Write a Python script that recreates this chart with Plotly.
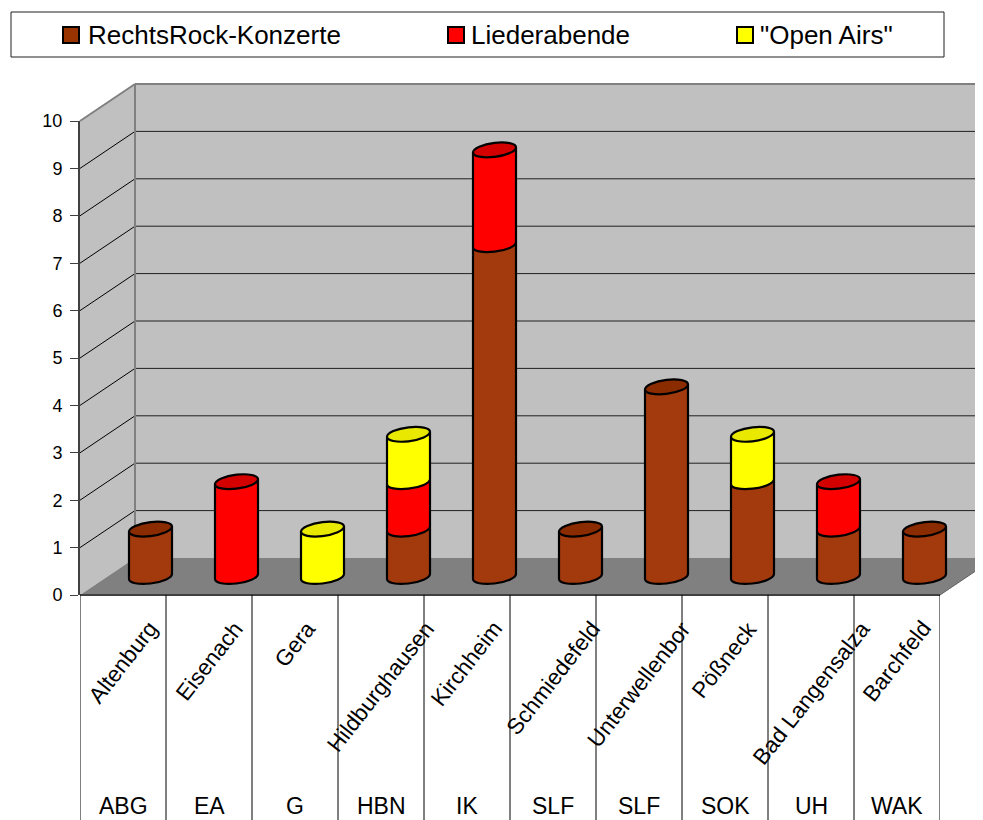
import math
import plotly.graph_objects as go

# ---------------- data ----------------
cities = ["Altenburg", "Eisenach", "Gera", "Hildburghausen", "Kirchheim",
          "Schmiedefeld", "Unterwellenbor", "Pößneck", "Bad Langensalza", "Barchfeld"]
codes = ["ABG", "EA", "G", "HBN", "IK", "SLF", "SLF", "SOK", "UH", "WAK"]
rechtsrock = [1, 0, 0, 1, 7, 1, 4, 2, 1, 1]
liederabende = [0, 2, 0, 1, 2, 0, 0, 0, 1, 0]
open_airs = [0, 0, 1, 1, 0, 0, 0, 1, 0, 0]
series_names = ["RechtsRock-Konzerte", "Liederabende", "\"Open Airs\""]
y_ticks = list(range(0, 11))

# ---------------- styles ----------------
body_colors = ["#A23A0D", "#FF0000", "#FFFF00"]
top_colors = ["#8A2C00", "#D40000", "#E8E800"]
legend_colors = ["#993300", "#FF0000", "#FFFF00"]
FONT = "Liberation Sans, Arial, sans-serif"

W, H = 983, 820
OFF = 8                     # page body margin
FX0, FX1 = 80, 940          # front edge of floor (screen px)
FY0 = 595                   # front zero line (screen px)
UNIT = 47.4                 # px per value unit
DX, DY = 55, -37            # depth offset of back wall
CZ = FY0 + DY / 2           # zero line at the middle depth (cylinders)
TOP_PX = 84


def px(x):
    return (x - OFF) / W


def py(y):
    return 1 - (y - OFF) / H


series = [rechtsrock, liederabende, open_airs]
xs = list(range(len(cities)))

fig = go.Figure()
for name, vals, col in zip(series_names, series, body_colors):
    fig.add_trace(go.Bar(
        x=xs, y=vals, name=name, width=0.49,
        marker=dict(color=col, line=dict(width=0)),
        customdata=cities,
        hovertemplate="%{customdata}<br>" + name + ": %{y}<extra></extra>",
        showlegend=False,
    ))

shapes = []
annotations = []

# ---------------- walls / floor (decoration) ----------------
wall = "#C0C0C0"
floor = "#808080"
shapes.append(dict(type="path", xref="paper", yref="paper", layer="below",
                   path=f"M{px(FX0)},{py(FY0)} L{px(FX0)},{py(FY0-10*UNIT)} "
                        f"L{px(FX0+DX)},{py(FY0+DY-10*UNIT)} L{px(FX0+DX)},{py(FY0+DY)} Z",
                   fillcolor=wall, line=dict(width=0)))
shapes.append(dict(type="rect", xref="paper", yref="paper", layer="below",
                   x0=px(FX0+DX), x1=px(FX1+DX), y0=py(FY0+DY), y1=py(FY0+DY-10*UNIT),
                   fillcolor=wall, line=dict(width=0)))
shapes.append(dict(type="path", xref="paper", yref="paper", layer="below",
                   path=f"M{px(FX0)},{py(FY0)} L{px(FX0+DX)},{py(FY0+DY)} "
                        f"L{px(FX1+DX)},{py(FY0+DY)} L{px(FX1)},{py(FY0)} Z",
                   fillcolor=floor, line=dict(width=0)))
# gridlines
for v in y_ticks[1:-1]:
    yb = FY0 + DY - v * UNIT
    yf = FY0 - v * UNIT
    shapes.append(dict(type="line", xref="paper", yref="paper", layer="below",
                       x0=px(FX0+DX), x1=px(FX1+DX), y0=py(yb), y1=py(yb),
                       line=dict(color="#202020", width=1)))
    shapes.append(dict(type="line", xref="paper", yref="paper", layer="below",
                       x0=px(FX0), x1=px(FX0+DX), y0=py(yf), y1=py(yb),
                       line=dict(color="#000000", width=1)))
# wall edges
edge = dict(color="#808080", width=2)
ytop_b = FY0 + DY - 10 * UNIT
ytop_f = FY0 - 10 * UNIT
shapes.append(dict(type="line", xref="paper", yref="paper", layer="below",
                   x0=px(FX0), y0=py(ytop_f), x1=px(FX0+DX), y1=py(ytop_b), line=edge))
shapes.append(dict(type="line", xref="paper", yref="paper", layer="below",
                   x0=px(FX0+DX), y0=py(ytop_b), x1=px(FX1+DX), y1=py(ytop_b), line=edge))
shapes.append(dict(type="line", xref="paper", yref="paper", layer="below",
                   x0=px(FX0+DX), y0=py(ytop_b), x1=px(FX0+DX), y1=py(FY0+DY), line=edge))
shapes.append(dict(type="line", xref="paper", yref="paper", layer="below",
                   x0=px(FX0), y0=py(FY0), x1=px(FX1), y1=py(FY0),
                   line=dict(color="#404040", width=2)))
shapes.append(dict(type="line", xref="paper", yref="paper", layer="below",
                   x0=px(FX1), y0=py(FY0), x1=px(FX1+DX), y1=py(FY0+DY),
                   line=dict(color="#606060", width=1)))

# category separators below the floor
for k in range(len(cities) + 1):
    shapes.append(dict(type="line", xref="x2", yref="paper", layer="below",
                       x0=k - 0.5, x1=k - 0.5, y0=py(830), y1=py(FY0),
                       line=dict(color="#000000", width=1)))

# ---------------- cylinder caps ----------------
A = 0.25                 # half width in category units
B = 7 / UNIT             # vertical semi-axis in value units
S = 2.5 / UNIT           # tilt of the ellipse
KAPPA = 0.5523


def M(cx, cy, u, v):
    return cx + A * u, cy + B * v + S * u


def quarter(cx, cy, t0):
    t1 = t0 + math.pi / 2
    p0 = (math.cos(t0), math.sin(t0))
    p3 = (math.cos(t1), math.sin(t1))
    p1 = (p0[0] - KAPPA * math.sin(t0), p0[1] + KAPPA * math.cos(t0))
    p2 = (p3[0] + KAPPA * math.sin(t1), p3[1] - KAPPA * math.cos(t1))
    pts = [M(cx, cy, *p) for p in (p1, p2, p3)]
    return "C" + " ".join(f"{x:.5f},{y:.5f}" for x, y in pts)


def start(cx, cy, t0):
    x, y = M(cx, cy, math.cos(t0), math.sin(t0))
    return f"M{x:.5f},{y:.5f}"


for i in xs:
    base = 0
    top_col = None
    for vals, col, tcol in zip(series, body_colors, top_colors):
        v = vals[i]
        if v <= 0:
            continue
        arc = start(i, base, math.pi) + " " + quarter(i, base, math.pi) + " " + quarter(i, base, 1.5 * math.pi)
        fill_path = f"M{i - A},{base} L" + arc[1:] + f" L{i + A},{base} Z"
        shapes.append(dict(type="path", xref="x", yref="y", path=fill_path,
                           fillcolor=col, line=dict(width=0)))
        shapes.append(dict(type="path", xref="x", yref="y", path=arc,
                           fillcolor="rgba(0,0,0,0)", line=dict(color="black", width=2.2)))
        base += v
        top_col = tcol
    if base > 0:
        shapes.append(dict(type="line", xref="x", yref="y", x0=i - A, x1=i - A,
                           y0=-S, y1=base - S, line=dict(color="black", width=2.2)))
        shapes.append(dict(type="line", xref="x", yref="y", x0=i + A, x1=i + A,
                           y0=S, y1=base + S, line=dict(color="black", width=2.2)))
        ell = start(i, base, 0) + " " + " ".join(quarter(i, base, q * math.pi / 2) for q in range(4)) + " Z"
        shapes.append(dict(type="path", xref="x", yref="y", path=ell,
                           fillcolor=top_col, line=dict(color="black", width=2.2)))

# ---------------- category labels ----------------
for i, (c, code) in enumerate(zip(cities, codes)):
    annotations.append(dict(x=i, y=py(614), xref="x2", yref="paper", text=c,
                            textangle=-52, xanchor="center", yanchor="top",
                            showarrow=False, font=dict(family=FONT, size=22.5, color="black")))
    annotations.append(dict(x=i, y=py(806), xref="x2", yref="paper", text=code,
                            xanchor="center", yanchor="middle",
                            showarrow=False, font=dict(family=FONT, size=23, color="black")))

# ---------------- legend (box with swatches) ----------------
shapes.append(dict(type="rect", xref="paper", yref="paper", x0=px(11), x1=px(944),
                   y0=py(57), y1=py(12), fillcolor="white", line=dict(color="#202020", width=1)))
leg_sw_x = [71, 456, 745]
leg_tx_x = [86, 469, 758]
for name, col, sx, tx in zip(series_names, legend_colors, leg_sw_x, leg_tx_x):
    shapes.append(dict(type="rect", xref="paper", yref="paper", x0=px(sx - 8), x1=px(sx + 8),
                       y0=py(43), y1=py(27), fillcolor=col, line=dict(color="black", width=2)))
    annotations.append(dict(x=px(tx), y=py(35), xref="paper", yref="paper", text=name,
                            xanchor="left", yanchor="middle", showarrow=False,
                            font=dict(family=FONT, size=26, color="black")))

fig.update_layout(
    width=W, height=H,
    margin=dict(l=0, r=0, t=0, b=0, pad=0, autoexpand=False),
    paper_bgcolor="white", plot_bgcolor="rgba(0,0,0,0)",
    barmode="stack", bargap=0,
    showlegend=False,
    font=dict(family=FONT, color="black"),
    xaxis=dict(domain=[px(FX0 + DX / 2), px(FX1 + DX / 2)], range=[-0.5, len(cities) - 0.5],
               visible=False, anchor="y", automargin=False),
    yaxis=dict(domain=[py(FY0), py(TOP_PX)],
               range=[(CZ - FY0) / UNIT, (CZ - TOP_PX) / UNIT],
               visible=False, anchor="x", automargin=False),
    xaxis2=dict(domain=[px(FX0), px(FX1)], range=[-0.5, len(cities) - 0.5],
                visible=False, anchor="y2", automargin=False),
    yaxis2=dict(domain=[py(FY0), py(FY0 - 10 * UNIT)], range=[0, 10], anchor="x2",
                tickvals=y_ticks, ticktext=[str(t) for t in y_ticks],
                ticks="outside", ticklen=8, tickwidth=1, tickcolor="#404040",
                showline=True, linecolor="#404040", linewidth=2,
                showgrid=False, zeroline=False, ticklabelstandoff=4, automargin=False,
                tickfont=dict(family=FONT, size=18, color="black")),
    shapes=shapes,
    annotations=annotations,
)

fig.write_html("out.html")
